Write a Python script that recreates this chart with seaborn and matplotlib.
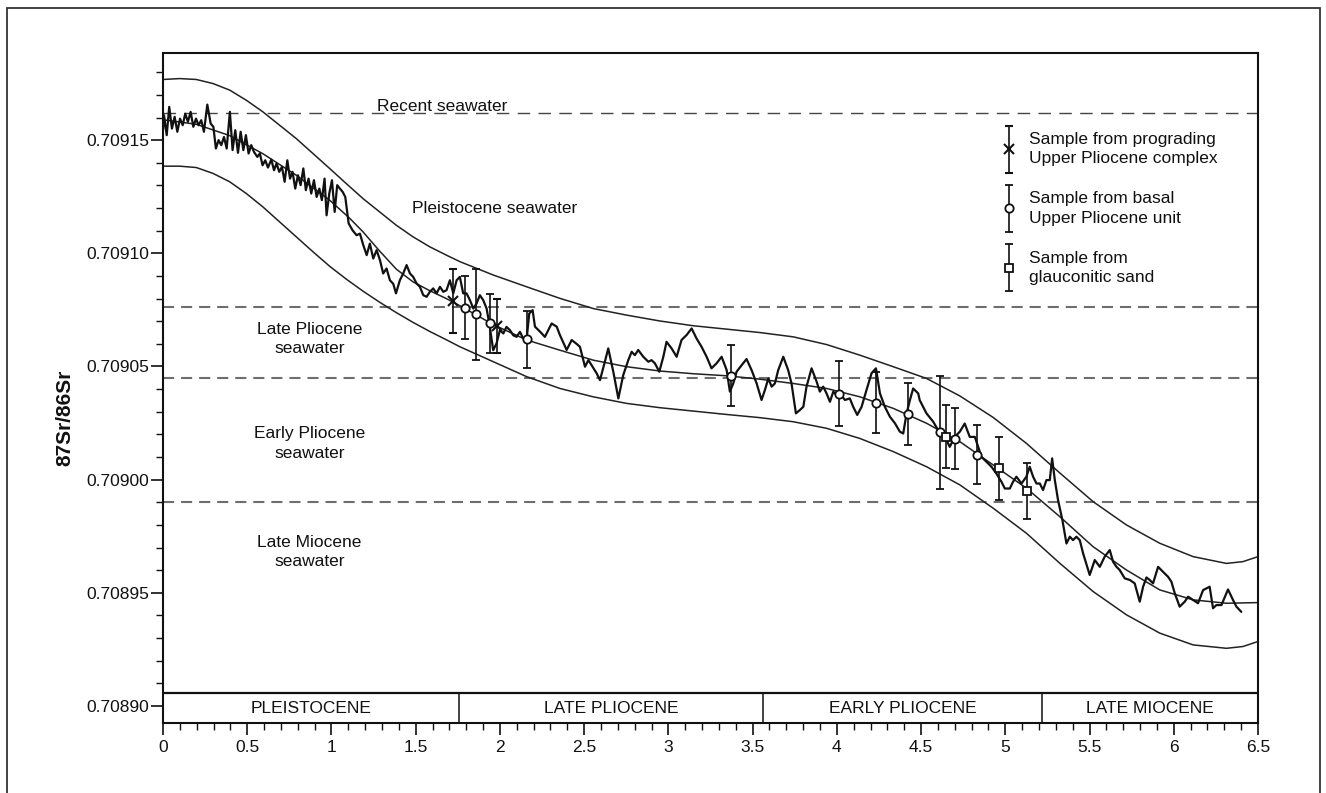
import matplotlib
matplotlib.use("Agg")
import matplotlib.pyplot as plt
import seaborn as sns
from matplotlib.ticker import FixedLocator, MultipleLocator
from matplotlib.legend_handler import HandlerErrorbar
from matplotlib.container import ErrorbarContainer
from matplotlib.patches import Rectangle

# ---------------- data ----------------
NOISY_X = [
    0.000, 0.006, 0.022, 0.037, 0.053, 0.069, 0.085, 0.101, 0.117, 0.132, 0.148, 0.164, 0.180, 0.196,
    0.211, 0.227, 0.243, 0.263, 0.283, 0.299, 0.314, 0.330, 0.346, 0.362, 0.378, 0.397, 0.413, 0.429,
    0.445, 0.461, 0.477, 0.492, 0.508, 0.524, 0.540, 0.560, 0.575, 0.591, 0.607, 0.623, 0.643, 0.659,
    0.674, 0.690, 0.706, 0.722, 0.738, 0.754, 0.769, 0.785, 0.801, 0.817, 0.833, 0.848, 0.864, 0.880,
    0.896, 0.912, 0.928, 0.943, 0.959, 0.971, 0.987, 1.003, 1.019, 1.034, 1.050, 1.066, 1.082, 1.102,
    1.125, 1.149, 1.169, 1.189, 1.209, 1.228, 1.248, 1.268, 1.288, 1.307, 1.327, 1.347, 1.367, 1.383,
    1.406, 1.426, 1.446, 1.466, 1.485, 1.505, 1.525, 1.545, 1.565, 1.584, 1.604, 1.624, 1.644, 1.664,
    1.683, 1.703, 1.723, 1.743, 1.762, 1.782, 1.802, 1.822, 1.842, 1.861, 1.881, 1.901, 1.921, 1.940,
    1.960, 1.980, 2.000, 2.020, 2.039, 2.059, 2.079, 2.099, 2.119, 2.138, 2.158, 2.174, 2.194,
    2.208, 2.238, 2.267, 2.307, 2.337, 2.356, 2.396, 2.426, 2.455, 2.475, 2.505, 2.525, 2.544, 2.574,
    2.594, 2.623, 2.643, 2.673, 2.703, 2.732, 2.762, 2.782, 2.801, 2.821, 2.851, 2.881, 2.900, 2.920,
    2.946, 2.970, 2.989, 3.019, 3.049, 3.078, 3.108, 3.138, 3.167, 3.197, 3.227, 3.256, 3.286, 3.316,
    3.346, 3.365, 3.385, 3.405, 3.435, 3.464, 3.494, 3.524, 3.553, 3.573, 3.593, 3.613, 3.632, 3.652,
    3.682, 3.711, 3.731, 3.757, 3.781, 3.801, 3.820, 3.850, 3.880, 3.899, 3.919, 3.939, 3.959, 3.979,
    3.998, 4.018, 4.048, 4.077, 4.097, 4.121, 4.147, 4.176, 4.206, 4.232, 4.256, 4.285, 4.315, 4.345,
    4.374, 4.394, 4.414, 4.434, 4.453, 4.483,
    4.492, 4.532, 4.572, 4.601, 4.631, 4.651, 4.670, 4.700, 4.730, 4.759, 4.789, 4.819, 4.839, 4.858,
    4.888, 4.918, 4.947, 4.977, 4.997, 5.027, 5.046, 5.066, 5.096, 5.125, 5.145, 5.165, 5.185, 5.205,
    5.224, 5.244, 5.264, 5.278, 5.294, 5.313, 5.339, 5.363, 5.383, 5.402, 5.422, 5.442, 5.462, 5.501,
    5.531, 5.561, 5.590, 5.620, 5.640, 5.660, 5.679, 5.709, 5.739, 5.768, 5.798, 5.818, 5.838, 5.857,
    5.877, 5.907, 5.936, 5.966, 5.986, 6.006, 6.035, 6.065, 6.085, 6.115, 6.144, 6.174, 6.213, 6.233,
    6.253, 6.283, 6.322, 6.352, 6.372, 6.401,
]
NOISY_Y = [
    0.7091544, 0.7091610, 0.7091522, 0.7091647, 0.7091551, 0.7091603, 0.7091537, 0.7091595, 0.7091566,
    0.7091617, 0.7091581, 0.7091625, 0.7091559, 0.7091595, 0.7091566, 0.7091588, 0.7091537, 0.7091657,
    0.7091573, 0.7091559, 0.7091463, 0.7091500, 0.7091478, 0.7091514, 0.7091463, 0.7091625, 0.7091456,
    0.7091544, 0.7091444, 0.7091537, 0.7091456, 0.7091522, 0.7091441, 0.7091478, 0.7091448, 0.7091426,
    0.7091441, 0.7091389, 0.7091411, 0.7091379, 0.7091414, 0.7091367, 0.7091397, 0.7091360, 0.7091382,
    0.7091316, 0.7091411, 0.7091330, 0.7091360, 0.7091286, 0.7091345, 0.7091301, 0.7091375, 0.7091279,
    0.7091330, 0.7091264, 0.7091323, 0.7091249, 0.7091286, 0.7091235, 0.7091330, 0.7091168, 0.7091264,
    0.7091323, 0.7091183, 0.7091301, 0.7091286, 0.7091272, 0.7091249, 0.7091132, 0.7091102, 0.7091080,
    0.7091087, 0.7091036, 0.7090992, 0.7091043, 0.7090977, 0.7091014, 0.7090970, 0.7090911, 0.7090933,
    0.7090881, 0.7090865, 0.7090823, 0.7090881, 0.7090911, 0.7090948, 0.7090911, 0.7090896, 0.7090867,
    0.7090852, 0.7090815, 0.7090808, 0.7090830, 0.7090845, 0.7090823, 0.7090852, 0.7090830, 0.7090837,
    0.7090881, 0.7090823, 0.7090881, 0.7090896, 0.7090823, 0.7090823, 0.7090793, 0.7090756, 0.7090778,
    0.7090815, 0.7090793, 0.7090756, 0.7090675, 0.7090572, 0.7090602, 0.7090661, 0.7090646, 0.7090675,
    0.7090661, 0.7090638, 0.7090631, 0.7090653, 0.7090624, 0.7090616, 0.7090734, 0.7090749,
    0.7090676, 0.7090654, 0.7090631, 0.7090690, 0.7090676, 0.7090639, 0.7090573, 0.7090617, 0.7090600,
    0.7090587, 0.7090499, 0.7090528, 0.7090506, 0.7090470, 0.7090440, 0.7090521, 0.7090580, 0.7090477,
    0.7090359, 0.7090462, 0.7090528, 0.7090565, 0.7090550, 0.7090573, 0.7090543, 0.7090521, 0.7090528,
    0.7090514, 0.7090477, 0.7090543, 0.7090609, 0.7090580, 0.7090543, 0.7090617, 0.7090639, 0.7090668,
    0.7090624, 0.7090587, 0.7090543, 0.7090492, 0.7090514, 0.7090543, 0.7090484, 0.7090389, 0.7090425,
    0.7090477, 0.7090506, 0.7090533, 0.7090484, 0.7090425, 0.7090352, 0.7090396, 0.7090447, 0.7090411,
    0.7090425, 0.7090484, 0.7090543, 0.7090484, 0.7090425, 0.7090293, 0.7090308, 0.7090322, 0.7090411,
    0.7090492, 0.7090433, 0.7090389, 0.7090411, 0.7090381, 0.7090344, 0.7090389, 0.7090374, 0.7090381,
    0.7090352, 0.7090359, 0.7090322, 0.7090286, 0.7090322, 0.7090396, 0.7090470, 0.7090492, 0.7090381,
    0.7090322, 0.7090278, 0.7090249, 0.7090212, 0.7090204, 0.7090293, 0.7090352, 0.7090403, 0.7090381,
    0.7090351, 0.7090293, 0.7090256, 0.7090219, 0.7090197, 0.7090175, 0.7090145, 0.7090189, 0.7090212,
    0.7090248, 0.7090189, 0.7090189, 0.7090145, 0.7090101, 0.7090079, 0.7090057, 0.7090027, 0.7089991,
    0.7089961, 0.7089961, 0.7089991, 0.7090013, 0.7089983, 0.7090013, 0.7090057, 0.7090013, 0.7089983,
    0.7089983, 0.7089954, 0.7089998, 0.7089998, 0.7090094, 0.7089998, 0.7089910, 0.7089821, 0.7089718,
    0.7089748, 0.7089733, 0.7089748, 0.7089733, 0.7089674, 0.7089579, 0.7089645, 0.7089615, 0.7089660,
    0.7089689, 0.7089637, 0.7089615, 0.7089601, 0.7089564, 0.7089557, 0.7089542, 0.7089461, 0.7089527,
    0.7089568, 0.7089557, 0.7089542, 0.7089615, 0.7089593, 0.7089571, 0.7089549, 0.7089498, 0.7089439,
    0.7089461, 0.7089483, 0.7089468, 0.7089454, 0.7089512, 0.7089527, 0.7089432, 0.7089446, 0.7089446,
    0.7089515, 0.7089468, 0.7089439, 0.7089416,
]

MID_X = [0.000, 0.198, 0.396, 0.593, 0.791, 0.989, 1.108, 1.187, 1.286, 1.385, 1.484, 1.583, 1.682,
         1.763, 1.961, 2.159, 2.356, 2.554, 2.752, 2.950, 3.148, 3.346, 3.543, 3.741, 3.939, 4.137,
         4.335, 4.533, 4.730, 4.928, 5.126, 5.323, 5.521, 5.719, 5.917, 6.115, 6.313, 6.500]
MID_Y = [0.7091590, 0.7091570, 0.7091520, 0.7091440, 0.7091345, 0.7091235, 0.7091155, 0.7091095,
         0.7091010, 0.7090930, 0.7090874, 0.7090835, 0.7090800, 0.7090768, 0.7090685, 0.7090617,
         0.7090572, 0.7090528, 0.7090499, 0.7090480, 0.7090468, 0.7090459, 0.7090444, 0.7090425,
         0.7090403, 0.7090366, 0.7090315, 0.7090249, 0.7090168, 0.7090065, 0.7089962, 0.7089837,
         0.7089704, 0.7089601, 0.7089513, 0.7089469, 0.7089454, 0.7089457]

ENV_X = [0.000, 0.099, 0.198, 0.297, 0.396, 0.495, 0.593, 0.692, 0.791, 0.890, 0.989, 1.088, 1.187,
         1.286, 1.385, 1.484, 1.583, 1.682, 1.763, 1.961, 2.159, 2.356, 2.554, 2.752, 2.950, 3.148,
         3.346, 3.543, 3.741, 3.939, 4.137, 4.335, 4.533, 4.730, 4.928, 5.126, 5.323, 5.521, 5.719,
         5.917, 6.115, 6.313, 6.411, 6.500]
UP_Y = [0.7091768, 0.7091772, 0.7091768, 0.7091750, 0.7091721, 0.7091676, 0.7091625, 0.7091566,
        0.7091507, 0.7091441, 0.7091375, 0.7091308, 0.7091242, 0.7091183, 0.7091124, 0.7091073,
        0.7091029, 0.7090992, 0.7090963, 0.7090904, 0.7090852, 0.7090801, 0.7090756, 0.7090727,
        0.7090701, 0.7090680, 0.7090665, 0.7090650, 0.7090631, 0.7090597, 0.7090550, 0.7090499,
        0.7090447, 0.7090370, 0.7090275, 0.7090160, 0.7090030, 0.7089903, 0.7089800, 0.7089719,
        0.7089660, 0.7089630, 0.7089638, 0.7089660]
LO_Y = [0.7091385, 0.7091385, 0.7091379, 0.7091353, 0.7091316, 0.7091264, 0.7091205, 0.7091139,
        0.7091073, 0.7091007, 0.7090943, 0.7090886, 0.7090833, 0.7090784, 0.7090738, 0.7090695,
        0.7090655, 0.7090618, 0.7090587, 0.7090521, 0.7090455, 0.7090403, 0.7090366, 0.7090337,
        0.7090318, 0.7090303, 0.7090288, 0.7090274, 0.7090256, 0.7090227, 0.7090182, 0.7090124,
        0.7090057, 0.7089977, 0.7089874, 0.7089763, 0.7089631, 0.7089506, 0.7089403, 0.7089322,
        0.7089270, 0.7089255, 0.7089263, 0.7089285]

PROG_X = [1.72, 1.98]
PROG_Y = [0.709079, 0.709068]
PROG_ERR = [0.000014, 0.000012]

BASAL_X = [1.79, 1.86, 1.94, 2.16, 3.37, 4.01, 4.23, 4.42, 4.61, 4.70, 4.83]
BASAL_Y = [0.709076, 0.709073, 0.709069, 0.709062, 0.709046, 0.709038, 0.709034, 0.709029,
           0.709021, 0.709018, 0.709011]
BASAL_ERR = [0.000014, 0.000020, 0.000013, 0.0000125, 0.0000135, 0.0000145, 0.0000135, 0.0000135,
             0.000025, 0.0000135, 0.000013]

GLAUC_X = [4.65, 4.96, 5.13]
GLAUC_Y = [0.709019, 0.709005, 0.708995]
GLAUC_ERR = [0.000014, 0.000014, 0.0000125]

RECENT_LEVEL = 0.709162
BOUNDARY_LEVELS = [0.7090765, 0.7090451, 0.7089903]

REGION_LABELS = ["Recent seawater", "Pleistocene seawater", "Late Pliocene\nseawater",
                 "Early Pliocene\nseawater", "Late Miocene\nseawater"]
REGION_X = [1.66, 1.97, 0.87, 0.87, 0.87]
REGION_Y = [0.7091648, 0.709120, 0.709062, 0.709016, 0.708968]

EPOCH_NAMES = ["PLEISTOCENE", "LATE PLIOCENE", "EARLY PLIOCENE", "LATE MIOCENE"]
EPOCH_EDGES = [0.0, 1.76, 3.56, 5.22, 6.5]
EPOCH_TOP = 0.7089057

LEGEND_LABELS = ["Sample from prograding\nUpper Pliocene complex",
                 "Sample from basal\nUpper Pliocene unit",
                 "Sample from\nglauconitic sand"]

XTICKS = [0, 0.5, 1, 1.5, 2, 2.5, 3, 3.5, 4, 4.5, 5, 5.5, 6, 6.5]
XTICK_LABELS = ["0", "0.5", "1", "1.5", "2", "2.5", "3", "3.5", "4", "4.5", "5", "5.5", "6", "6.5"]
YTICKS = [0.70890, 0.70895, 0.70900, 0.70905, 0.70910, 0.70915]
YTICK_LABELS = ["0.70890", "0.70895", "0.70900", "0.70905", "0.70910", "0.70915"]
XLIM = (0.0, 6.5)
YLIM = (0.7088925, 0.7091885)

# ---------------- style ----------------
sns.set_theme(style="ticks")
plt.rcParams['font.family'] = ['Liberation Sans', 'DejaVu Sans']
plt.rcParams['lines.scale_dashes'] = False

W, H = 1326, 793
fig = plt.figure(figsize=(W / 100, H / 100), dpi=100)
fig.patch.set_facecolor('white')
ax = fig.add_axes([163 / W, 70 / H, 1095 / W, 670 / H])
ax.set_facecolor('white')

INK = '#111111'

# curves
sns.lineplot(x=ENV_X, y=UP_Y, ax=ax, color='#222222', lw=1.1, estimator=None, sort=False, zorder=2)
sns.lineplot(x=ENV_X, y=LO_Y, ax=ax, color='#222222', lw=1.1, estimator=None, sort=False, zorder=2)
sns.lineplot(x=MID_X, y=MID_Y, ax=ax, color='#222222', lw=1.1, estimator=None, sort=False, zorder=2)
sns.lineplot(x=NOISY_X, y=NOISY_Y, ax=ax, color=INK, lw=1.6, estimator=None, sort=False, zorder=3)

# horizontal reference lines
ax.axhline(RECENT_LEVEL, color='#444444', lw=1.0, dashes=(9, 6), zorder=1)
for lvl in BOUNDARY_LEVELS:
    ax.axhline(lvl, color='#6e6e6e', lw=1.5, dashes=(8, 5), zorder=1)

# region labels
for lab, xx, yy in zip(REGION_LABELS, REGION_X, REGION_Y):
    t = ax.text(xx, yy, lab, ha='center', va='center', fontsize=12.5, color=INK, zorder=4)
    t.set_linespacing(1.35)

# samples with error bars
ebkw = dict(ecolor=INK, elinewidth=1.2, capsize=3, capthick=1.2, zorder=5)
h1 = ax.errorbar(PROG_X, PROG_Y, yerr=PROG_ERR, fmt='x', ms=6.5, mec=INK, mew=1.5,
                 label=LEGEND_LABELS[0], **ebkw)
h2 = ax.errorbar(BASAL_X, BASAL_Y, yerr=BASAL_ERR, fmt='o', ms=6, mfc='white', mec=INK, mew=1.3,
                 label=LEGEND_LABELS[1], **ebkw)
h3 = ax.errorbar(GLAUC_X, GLAUC_Y, yerr=GLAUC_ERR, fmt='s', ms=5.5, mfc='white', mec=INK, mew=1.3,
                 label=LEGEND_LABELS[2], **ebkw)

leg = ax.legend(handles=[h1, h2, h3], loc='upper left', bbox_to_anchor=(0.7647, 0.882),
                frameon=False, fontsize=12.5, handlelength=1.0, handletextpad=0.65,
                labelspacing=1.45, borderpad=0, borderaxespad=0, numpoints=1,
                handler_map={ErrorbarContainer: HandlerErrorbar(yerr_size=1.35, numpoints=1)})
for t in leg.get_texts():
    t.set_linespacing(1.35)
    t.set_color(INK)

# epoch bar at the bottom
ax.axhline(EPOCH_TOP, color=INK, lw=1.6, zorder=3)
ax.vlines(EPOCH_EDGES[1:-1], YLIM[0], EPOCH_TOP, color=INK, lw=1.1, zorder=3)
for name, a, b in zip(EPOCH_NAMES, EPOCH_EDGES[:-1], EPOCH_EDGES[1:]):
    ax.text((a + b) / 2, (YLIM[0] + EPOCH_TOP) / 2, name, ha='center', va='center',
            fontsize=12.5, color=INK, zorder=4)

# axes, ticks
ax.set_xlim(*XLIM)
ax.set_ylim(*YLIM)
ax.xaxis.set_major_locator(FixedLocator(XTICKS))
ax.set_xticklabels(XTICK_LABELS)
ax.xaxis.set_minor_locator(MultipleLocator(0.1))
ax.yaxis.set_major_locator(FixedLocator(YTICKS))
ax.set_yticklabels(YTICK_LABELS)
ax.yaxis.set_minor_locator(MultipleLocator(0.00001))

ax.tick_params(axis='both', which='major', direction='out', length=8.5, width=1.2,
               color=INK, labelcolor=INK)
ax.tick_params(axis='both', which='minor', direction='out', length=4.8, width=1.0, color=INK)
ax.tick_params(axis='x', which='major', labelsize=12.5, pad=3.5)
ax.tick_params(axis='y', which='major', labelsize=12.5, pad=1.5)
ax.tick_params(top=False, right=False, which='both')

for sp in ax.spines.values():
    sp.set_visible(True)
    sp.set_color(INK)
    sp.set_linewidth(1.5)

ax.set_xlabel('')
ax.set_ylabel('87Sr/86Sr', fontsize=15, fontweight='bold', color=INK)
ax.yaxis.set_label_coords(-0.081, 0.455)

# outer frame of the figure
fig.add_artist(Rectangle((7 / W, -0.05), (1320 - 7) / W, 1 - 8 / H + 0.05,
                         transform=fig.transFigure, fill=False, edgecolor='#333333',
                         lw=1.3, clip_on=False))

fig.savefig('out.png', dpi=100, facecolor='white')
